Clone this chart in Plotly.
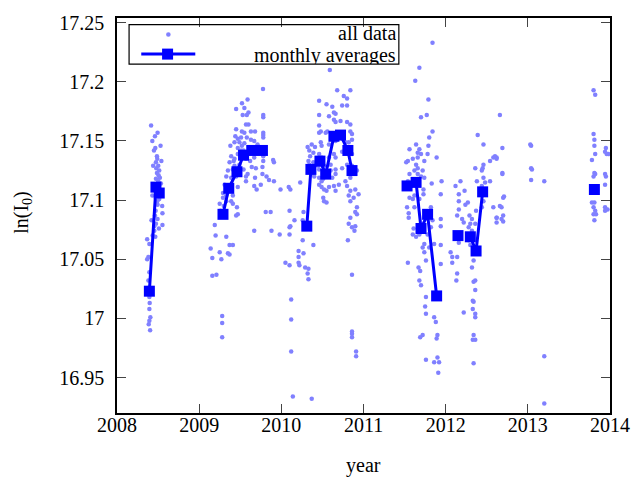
import plotly.graph_objects as go

# ---------------- all data (decimal year, ln(I0)) ----------------
x_2008 = [2008.415, 2008.462, 2008.494, 2008.466, 2008.486, 2008.490, 2008.474, 2008.502, 2008.478, 2008.514,
          2008.486, 2008.506, 2008.522, 2008.474, 2008.502, 2008.534, 2008.514, 2008.494, 2008.553, 2008.462,
          2008.494, 2008.474, 2008.553, 2008.454, 2008.454, 2008.434, 2008.466, 2008.367, 2008.394, 2008.382,
          2008.367, 2008.394, 2008.382, 2008.386, 2008.394, 2008.398, 2008.394, 2008.406, 2008.394, 2008.386,
          2008.403, 2008.43, 2008.53, 2008.45, 2008.54, 2008.44, 2008.53, 2008.43, 2008.49, 2008.55,
          2008.47, 2008.42, 2008.51]
y_2008 = [17.163, 17.154, 17.157, 17.144, 17.137, 17.135, 17.132, 17.129, 17.127, 17.125,
          17.123, 17.121, 17.119, 17.118, 17.116, 17.114, 17.101, 17.096, 17.089, 17.087,
          17.084, 17.080, 17.079, 17.078, 17.074, 17.070, 17.069, 17.067, 17.063, 17.052,
          17.050, 17.039, 17.032, 17.026, 17.018, 17.013, 17.008, 17.001, 16.998, 16.995,
          16.990, 17.150, 17.146, 17.142, 17.133, 17.129, 17.108, 17.104, 17.099, 17.095,
          17.091, 17.083, 17.076]

x_2009 = [2009.777, 2009.589, 2009.521, 2009.45, 2009.55, 2009.60, 2009.58, 2009.53, 2009.78, 2009.78,
          2009.57, 2009.60, 2009.45, 2009.52, 2009.55, 2009.63, 2009.68, 2009.78, 2009.78, 2009.78,
          2009.44, 2009.47, 2009.51, 2009.58, 2009.63, 2009.90, 2009.67, 2009.71, 2009.55, 2009.49,
          2009.43, 2009.69, 2009.65, 2009.47, 2009.38, 2009.54, 2009.47, 2009.51, 2009.43, 2009.39,
          2009.57, 2009.62, 2009.67, 2009.78, 2009.78, 2009.37, 2009.43, 2009.49, 2009.41, 2009.35,
          2009.46, 2009.54, 2009.59, 2009.69, 2009.77, 2009.91, 2009.33, 2009.39, 2009.45, 2009.68,
          2009.77, 2009.82, 2009.85, 2009.91, 2009.31, 2009.35, 2009.29, 2009.39, 2009.41, 2009.47,
          2009.57, 2009.67, 2009.70, 2009.75, 2009.99, 2010.11, 2010.09, 2009.29, 2009.33, 2009.25,
          2009.41, 2009.46, 2009.47, 2009.45, 2009.81, 2009.87, 2010.10, 2010.16, 2009.67, 2009.88,
          2009.98, 2010.10, 2010.10, 2009.19, 2009.20, 2009.14, 2009.16, 2009.25, 2009.27, 2009.33,
          2009.37, 2009.41, 2009.35, 2009.37, 2009.16, 2009.21, 2009.28, 2009.28, 2009.28, 2009.51,
          2009.42, 2009.33, 2009.39, 2009.52, 2009.61, 2009.64, 2009.57, 2009.30, 2009.26]
y_2009 = [17.194, 17.185, 17.182, 17.177, 17.178, 17.174, 17.172, 17.172, 17.172, 17.170,
          17.164, 17.164, 17.160, 17.158, 17.157, 17.158, 17.158, 17.157, 17.155, 17.153,
          17.154, 17.152, 17.153, 17.153, 17.151, 17.134, 17.150, 17.147, 17.148, 17.149,
          17.149, 17.142, 17.141, 17.144, 17.146, 17.142, 17.139, 17.136, 17.135, 17.137,
          17.135, 17.133, 17.136, 17.137, 17.133, 17.132, 17.129, 17.130, 17.126, 17.125,
          17.124, 17.126, 17.122, 17.127, 17.128, 17.132, 17.120, 17.119, 17.120, 17.119,
          17.122, 17.120, 17.117, 17.116, 17.113, 17.111, 17.106, 17.108, 17.104, 17.111,
          17.116, 17.112, 17.109, 17.113, 17.109, 17.109, 17.111, 17.102, 17.099, 17.097,
          17.097, 17.094, 17.088, 17.087, 17.090, 17.090, 17.091, 17.083, 17.074, 17.074,
          17.071, 17.077, 17.071, 17.079, 17.070, 17.059, 17.051, 17.056, 17.050, 17.069,
          17.062, 17.062, 17.055, 17.054, 17.036, 17.037, 17.002, 16.996, 16.984, 17.142,
          17.133, 17.104, 17.099, 17.146, 17.144, 17.128, 17.120, 17.095, 17.091]

x_2010 = [2010.59, 2010.68, 2010.84, 2010.46, 2010.76, 2010.80, 2010.55, 2010.62, 2010.74, 2010.80,
          2010.46, 2010.64, 2010.66, 2010.58, 2010.64, 2010.72, 2010.66, 2010.80, 2010.84, 2010.46,
          2010.48, 2010.46, 2010.54, 2010.56, 2010.84, 2010.86, 2010.32, 2010.37, 2010.41, 2010.48,
          2010.49, 2010.58, 2010.66, 2010.78, 2010.82, 2010.86, 2010.34, 2010.39, 2010.35, 2010.46,
          2010.49, 2010.58, 2010.64, 2010.66, 2010.74, 2010.84, 2010.86, 2010.33, 2010.34, 2010.39,
          2010.45, 2010.46, 2010.52, 2010.60, 2010.60, 2010.66, 2010.74, 2010.80, 2010.86, 2010.90,
          2010.37, 2010.40, 2010.46, 2010.49, 2010.51, 2010.57, 2010.62, 2010.66, 2010.70, 2010.78,
          2010.84, 2010.92, 2010.46, 2010.49, 2010.52, 2010.55, 2010.58, 2010.64, 2010.66, 2010.80,
          2010.84, 2010.90, 2010.94, 2010.51, 2010.52, 2010.55, 2010.82, 2010.84, 2010.88, 2010.92,
          2010.90, 2010.23, 2010.11, 2010.26, 2010.27, 2010.26, 2010.39, 2010.84, 2010.82, 2010.90,
          2010.89, 2010.81, 2010.86, 2010.92, 2010.21, 2010.27, 2010.21, 2010.05, 2010.10, 2010.21,
          2010.22, 2010.29, 2010.33, 2010.32, 2010.33, 2010.86, 2010.12, 2010.12, 2010.86, 2010.86,
          2010.86, 2010.12, 2010.91, 2010.91, 2010.14, 2010.37]
y_2010 = [17.210, 17.193, 17.193, 17.184, 17.188, 17.186, 17.181, 17.179, 17.180, 17.180,
          17.172, 17.174, 17.173, 17.171, 17.168, 17.167, 17.166, 17.166, 17.164, 17.163,
          17.158, 17.157, 17.157, 17.158, 17.158, 17.156, 17.145, 17.147, 17.145, 17.149,
          17.146, 17.147, 17.150, 17.149, 17.149, 17.151, 17.142, 17.140, 17.137, 17.139,
          17.136, 17.136, 17.139, 17.136, 17.141, 17.141, 17.139, 17.133, 17.130, 17.132,
          17.129, 17.126, 17.129, 17.130, 17.125, 17.126, 17.127, 17.130, 17.129, 17.126,
          17.122, 17.120, 17.119, 17.116, 17.118, 17.120, 17.119, 17.122, 17.113, 17.116,
          17.119, 17.125, 17.113, 17.111, 17.109, 17.108, 17.111, 17.112, 17.108, 17.112,
          17.108, 17.109, 17.105, 17.102, 17.099, 17.098, 17.104, 17.099, 17.102, 17.094,
          17.090, 17.115, 17.078, 17.083, 17.090, 17.066, 17.062, 17.085, 17.080, 17.078,
          17.074, 17.066, 17.077, 17.088, 17.057, 17.055, 17.052, 17.047, 17.045, 17.047,
          17.045, 17.043, 17.042, 17.038, 17.033, 17.037, 17.016, 16.999, 16.989, 16.987,
          16.984, 16.972, 16.972, 16.968, 16.934, 16.932]

x_2011 = [2011.84, 2011.68, 2011.63, 2011.79, 2011.70, 2011.77, 2011.84, 2011.80, 2011.64, 2011.56,
          2011.68, 2011.79, 2011.66, 2011.70, 2011.78, 2011.54, 2011.52, 2011.60, 2011.64, 2011.66,
          2011.74, 2011.89, 2011.66, 2011.62, 2011.66, 2011.70, 2011.56, 2011.54, 2011.58, 2011.72,
          2011.74, 2011.83, 2011.95, 2011.73, 2011.73, 2011.94, 2011.68, 2011.60, 2011.56, 2011.62,
          2011.53, 2011.55, 2011.55, 2011.62, 2011.61, 2011.60, 2011.64, 2011.68, 2011.78, 2011.82,
          2011.74, 2011.72, 2011.80, 2011.86, 2011.94, 2011.94, 2011.94, 2011.84, 2011.82, 2011.94,
          2011.54, 2011.67, 2011.69, 2011.76, 2011.74, 2011.68, 2011.70, 2011.76, 2011.75, 2011.76,
          2011.86, 2011.88, 2011.90, 2011.89, 2011.72, 2011.69, 2011.76, 2011.86, 2011.90, 2011.92,
          2011.91]
y_2011 = [17.233, 17.212, 17.201, 17.185, 17.170, 17.172, 17.158, 17.153, 17.147, 17.143,
          17.143, 17.146, 17.140, 17.139, 17.139, 17.133, 17.132, 17.135, 17.130, 17.127,
          17.133, 17.136, 17.136, 17.125, 17.122, 17.120, 17.122, 17.116, 17.112, 17.125,
          17.119, 17.114, 17.116, 17.109, 17.105, 17.105, 17.101, 17.101, 17.102, 17.104,
          17.094, 17.089, 17.085, 17.094, 17.076, 17.071, 17.069, 17.071, 17.071, 17.077,
          17.063, 17.060, 17.060, 17.063, 17.062, 17.046, 17.084, 17.083, 17.094, 17.078,
          17.047, 17.043, 17.040, 17.049, 17.056, 17.032, 17.028, 17.018, 17.010, 17.004,
          17.001, 16.997, 16.986, 16.983, 16.986, 16.984, 16.965, 16.963, 16.967, 16.963,
          16.954]

x_2012 = [2012.22, 2012.12, 2012.16, 2012.16, 2012.24, 2012.27, 2012.23, 2012.18, 2012.16, 2012.14,
          2012.20, 2012.22, 2012.29, 2012.32, 2012.30, 2012.28, 2012.32, 2012.36, 2012.37, 2012.44,
          2012.46, 2012.42, 2012.44, 2012.48, 2012.46, 2012.44, 2012.45, 2012.46, 2012.54, 2012.62,
          2012.60, 2012.38, 2012.36, 2012.39, 2012.46, 2012.54, 2012.58, 2012.68, 2012.70, 2012.68,
          2012.62, 2012.70, 2012.69, 2012.69, 2012.66, 2012.34, 2012.32, 2012.36, 2012.34, 2012.36,
          2012.33, 2012.34, 2012.33, 2012.36, 2012.36, 2012.34, 2012.36, 2012.33, 2012.34, 2012.30,
          2012.28, 2012.30, 2012.16, 2012.14, 2012.08, 2012.06, 2012.08, 2012.14, 2012.13, 2012.58,
          2012.62, 2012.69, 2012.71, 2012.66, 2012.62, 2012.62, 2012.70]
y_2012 = [17.005, 17.112, 17.105, 17.099, 17.096, 17.098, 17.108, 17.116, 17.092, 17.087,
          17.084, 17.081, 17.087, 17.084, 17.080, 17.077, 17.074, 17.080, 17.091, 17.094,
          17.099, 17.108, 17.112, 17.115, 17.119, 17.125, 17.127, 17.130, 17.133, 17.136,
          17.137, 17.116, 17.127, 17.155, 17.147, 17.116, 17.094, 17.094, 17.087, 17.084,
          17.085, 17.102, 17.123, 17.144, 17.172, 17.049, 17.043, 17.032, 17.031, 17.024,
          17.015, 17.014, 17.008, 17.004, 17.001, 16.986, 16.982, 16.982, 16.962, 17.071,
          17.066, 17.062, 17.064, 17.052, 17.052, 17.056, 17.047, 17.038, 17.032, 17.136,
          17.135, 17.122, 17.103, 17.095, 17.085, 17.081, 17.082]

x_2013 = [2013.03, 2013.04, 2013.04, 2013.05, 2013.04, 2013.20, 2013.20, 2013.20,
          2013.80, 2013.82, 2013.80, 2013.81, 2013.81, 2013.82, 2013.78, 2013.81, 2013.82, 2013.80,
          2013.78, 2013.81, 2013.80, 2013.82, 2013.80, 2013.83, 2013.81, 2013.95, 2013.94, 2013.96,
          2013.98, 2013.94, 2013.95, 2013.94, 2013.94, 2013.97, 2013.94]
y_2013 = [17.147, 17.146, 17.127, 17.126, 17.117, 17.116, 16.968, 16.928,
          17.193, 17.189, 17.156, 17.151, 17.146, 17.139, 17.134, 17.123, 17.122, 17.120,
          17.098, 17.098, 17.094, 17.091, 17.088, 17.088, 17.083, 17.144, 17.141, 17.139,
          17.139, 17.122, 17.120, 17.113, 17.094, 17.092, 17.091]

# ---------------- monthly averages (None = gap) ----------------
avg_x = [2008.394, 2008.474, 2008.514, None,
         2009.29, 2009.36, 2009.46, 2009.54, 2009.64, None, 2009.77, None,
         2010.31, 2010.36, 2010.47, 2010.54, 2010.64, 2010.72, 2010.81, 2010.86, None,
         2011.53, 2011.64, 2011.70, 2011.78, 2011.89, None,
         2012.15, None, 2012.30, 2012.37, 2012.45, None,
         2013.81]
avg_y = [17.023, 17.111, 17.106, None,
         17.088, 17.110, 17.124, 17.138, 17.142, None, 17.142, None,
         17.078, 17.126, 17.133, 17.122, 17.154, 17.155, 17.142, 17.125, None,
         17.112, 17.115, 17.076, 17.088, 17.019, None,
         17.070, None, 17.069, 17.057, 17.107, None,
         17.109]

x_ticks = [2008, 2009, 2010, 2011, 2012, 2013, 2014]
y_ticks = [16.95, 17.0, 17.05, 17.1, 17.15, 17.2, 17.25]
y_tick_text = ["16.95", "17", "17.05", "17.1", "17.15", "17.2", "17.25"]

all_x = x_2008 + x_2009 + x_2010 + x_2011 + x_2012 + x_2013
all_y = y_2008 + y_2009 + y_2010 + y_2011 + y_2012 + y_2013

DOT = "#8080ff"
BLUE = "#0000ff"
FONT = "Liberation Serif, Times New Roman, serif"

fig = go.Figure()
fig.add_trace(go.Scatter(x=all_x, y=all_y, mode="markers", name="all data",
                         marker=dict(size=4.5, color=DOT, line=dict(width=0)),
                         showlegend=False))
fig.add_trace(go.Scatter(x=avg_x, y=avg_y, mode="lines+markers", name="monthly averages",
                         connectgaps=False,
                         line=dict(color=BLUE, width=3),
                         marker=dict(symbol="square", size=11, color=BLUE, line=dict(width=0)),
                         showlegend=False))

axis_common = dict(showgrid=False, zeroline=False, showline=True, linecolor="black",
                   linewidth=1.5, mirror="ticks", ticks="inside", ticklen=9, tickwidth=1,
                   tickcolor="#444444", tickfont=dict(family=FONT, size=20, color="black"))

fig.update_xaxes(range=[2008, 2014], tickvals=x_ticks,
                 ticktext=[str(v) for v in x_ticks], ticklabelstandoff=-7, **axis_common)
fig.update_yaxes(range=[16.92, 17.254], tickvals=y_ticks, ticktext=y_tick_text,
                 ticklabelstandoff=7, **axis_common)

# legend box (drawn manually, gnuplot style)
shapes = [
    dict(type="rect", xref="paper", yref="paper", x0=0.0245, x1=0.5717, y0=0.8834, y1=0.9831,
         line=dict(color="black", width=1.2), fillcolor="rgba(0,0,0,0)", layer="above"),
    dict(type="circle", xref="paper", yref="paper", xsizemode="pixel", ysizemode="pixel",
         xanchor=0.1042, yanchor=0.9582, x0=-2.3, x1=2.3, y0=-2.3, y1=2.3,
         fillcolor=DOT, line=dict(width=0)),
    dict(type="line", xref="paper", yref="paper", x0=0.0492, x1=0.1588, y0=0.9086, y1=0.9086,
         line=dict(color=BLUE, width=3)),
    dict(type="rect", xref="paper", yref="paper", xsizemode="pixel", ysizemode="pixel",
         xanchor=0.1026, yanchor=0.9086, x0=-5.5, x1=5.5, y0=-5.5, y1=5.5,
         fillcolor=BLUE, line=dict(width=0)),
]

annotations = [
    dict(text="all data", xref="paper", yref="paper", x=0.5697, y=0.9610,
         xanchor="right", yanchor="middle", showarrow=False, height=18,
         font=dict(family=FONT, size=20, color="black")),
    dict(text="monthly averages", xref="paper", yref="paper", x=0.5697, y=0.9060,
         xanchor="right", yanchor="middle", showarrow=False, height=18,
         font=dict(family=FONT, size=20, color="black")),
    dict(text="year", xref="paper", yref="paper", x=0.5, y=-0.1335,
         xanchor="center", yanchor="middle", showarrow=False,
         font=dict(family=FONT, size=20, color="black")),
    dict(text="ln(I<sub>0</sub>)", xref="paper", yref="paper", x=-0.1932, y=0.5088,
         xanchor="center", yanchor="middle", textangle=-90, showarrow=False,
         font=dict(family=FONT, size=20, color="black")),
]

fig.update_layout(width=642, height=477, margin=dict(l=117, r=23, t=16, b=64),
                  paper_bgcolor="white", plot_bgcolor="white",
                  font=dict(family=FONT, size=20, color="black"),
                  shapes=shapes, annotations=annotations, showlegend=False)

fig.write_html("out.html")
